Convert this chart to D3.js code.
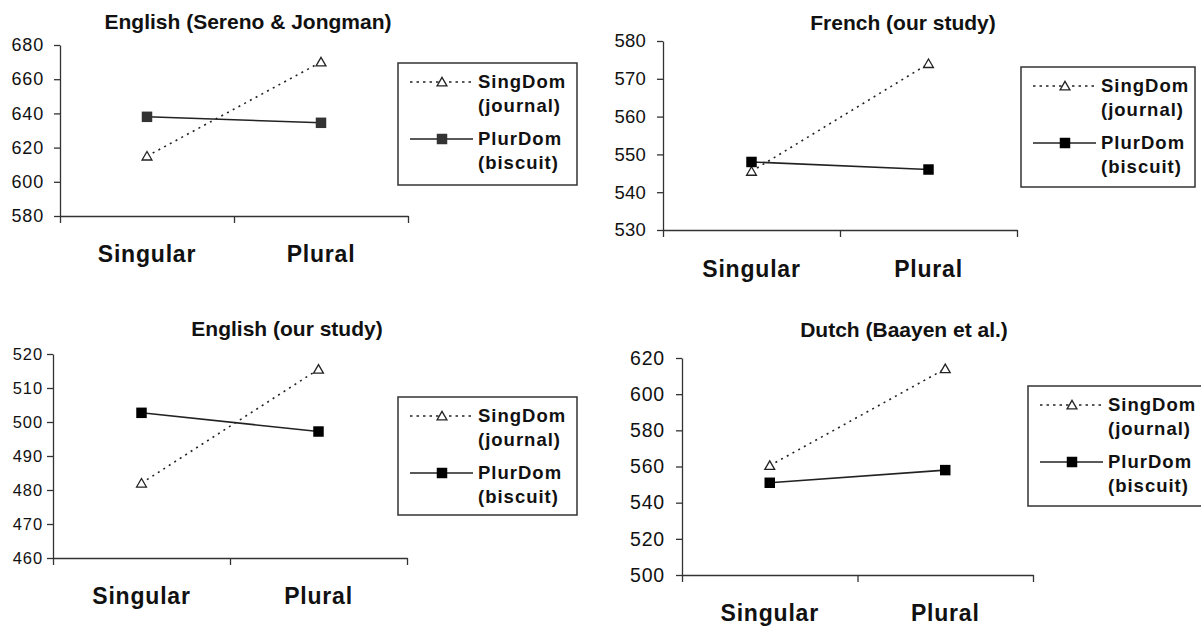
<!DOCTYPE html>
<html>
<head>
<meta charset="utf-8">
<script src="https://cdn.jsdelivr.net/npm/d3@7"></script>
<style>
  body { margin: 0; background: #fff; }
  svg { display: block; font-family: "Liberation Sans", Arial, sans-serif; }
</style>
</head>
<body>
<svg id="chart" width="1201" height="626"></svg>
<script>
// data
const categories = ["Singular", "Plural"];
const titles = ["English (Sereno & Jongman)", "French (our study)", "English (our study)", "Dutch (Baayen et al.)"];
const seriesNames = ["SingDom", "PlurDom"];
const seriesSub = ["(journal)", "(biscuit)"];
const singDom = [[615, 670], [545.5, 574], [482, 515.5], [560.5, 614]];
const plurDom = [[638, 634.5], [548, 546], [502.7, 497.2], [551, 558]];
const yDomains = [[580, 680], [530, 580], [460, 520], [500, 620]];
const yTicks = [
  [580, 600, 620, 640, 660, 680],
  [530, 540, 550, 560, 570, 580],
  [460, 470, 480, 490, 500, 510, 520],
  [500, 520, 540, 560, 580, 600, 620],
];

// where each panel sits on the page
const layout = [
  { x0: 60, x1: 408, yTop: 45, yBot: 216, titleX: 248, titleY: 29, catY: 262, tickFont: 18, tickSpace: 0.8, tickPad: 10, leg: { x: 398, y: 63, w: 179, h: 122 } },
  { x0: 663, x1: 1017, yTop: 41, yBot: 230, titleX: 903, titleY: 30, catY: 277, tickFont: 18.5, tickSpace: 0.2, tickPad: 11, leg: { x: 1021, y: 67, w: 174, h: 120 } },
  { x0: 53, x1: 407, yTop: 354, yBot: 558, titleX: 287, titleY: 336, catY: 604, tickFont: 16.5, tickSpace: 0.9, tickPad: 4, leg: { x: 398, y: 397, w: 179, h: 118 } },
  { x0: 682, x1: 1033, yTop: 358, yBot: 575, titleX: 904, titleY: 337, catY: 621, tickFont: 19.5, tickSpace: 0.8, tickPad: 11, leg: { x: 1028, y: 386, w: 176, h: 120 } },
];

const ink = "#222";
const svg = d3.select("#chart");
const tri = d3.symbol().type(d3.symbolTriangle).size(42);
const sq = d3.symbol().type(d3.symbolSquare).size(110);

layout.forEach((L, i) => {
  const g = svg.append("g");
  const x = d3.scalePoint().domain(categories).range([L.x0, L.x1]).padding(0.5);
  const xb = d3.scaleLinear().domain([0, 2]).range([L.x0, L.x1]);
  const y = d3.scaleLinear().domain(yDomains[i]).range([L.yBot, L.yTop]);

  // title
  g.append("text")
    .attr("x", L.titleX)
    .attr("y", L.titleY)
    .attr("text-anchor", "middle")
    .attr("font-size", 21)
    .attr("font-weight", "bold")
    .attr("fill", "#111")
    .text(titles[i]);

  // y axis
  const ya = g.append("g")
    .attr("transform", `translate(${L.x0},0)`)
    .call(d3.axisLeft(y).tickValues(yTicks[i]).tickSize(6).tickPadding(L.tickPad).tickSizeOuter(0));
  ya.selectAll("path,line").attr("stroke", "#333").attr("stroke-width", 1.3);
  ya.selectAll("text")
    .attr("font-size", L.tickFont)
    .attr("font-family", "Liberation Sans, Arial, sans-serif")
    .attr("letter-spacing", L.tickSpace)
    .attr("fill", "#111");

  // x axis (ticks at band edges, labels drawn separately)
  const xa = g.append("g")
    .attr("transform", `translate(0,${L.yBot})`)
    .call(d3.axisBottom(xb).tickValues([0, 1, 2]).tickSize(7).tickFormat("").tickSizeOuter(0));
  xa.selectAll("path,line").attr("stroke", "#333").attr("stroke-width", 1.3);

  g.selectAll(".cat")
    .data(categories)
    .join("text")
    .attr("class", "cat")
    .attr("x", (d) => x(d))
    .attr("y", L.catY)
    .attr("text-anchor", "middle")
    .attr("font-size", 23)
    .attr("font-weight", "bold")
    .attr("letter-spacing", 0.8)
    .attr("fill", "#111")
    .text((d) => d);

  const line = d3.line()
    .x((d, j) => x(categories[j]))
    .y((d) => y(d));

  // SingDom: dotted with open triangles
  g.append("path")
    .attr("d", line(singDom[i]))
    .attr("fill", "none")
    .attr("stroke", ink)
    .attr("stroke-width", 1.6)
    .attr("stroke-dasharray", "2,4.5");
  g.selectAll(".tri")
    .data(singDom[i])
    .join("path")
    .attr("class", "tri")
    .attr("d", tri)
    .attr("transform", (d, j) => `translate(${x(categories[j])},${y(d) + 1})`)
    .attr("fill", "#fff")
    .attr("stroke", ink)
    .attr("stroke-width", 1.3);

  // PlurDom: solid with filled squares
  g.append("path")
    .attr("d", line(plurDom[i]))
    .attr("fill", "none")
    .attr("stroke", ink)
    .attr("stroke-width", 1.6);
  g.selectAll(".sq")
    .data(plurDom[i])
    .join("path")
    .attr("class", "sq")
    .attr("d", sq)
    .attr("transform", (d, j) => `translate(${x(categories[j])},${y(d)})`)
    .attr("fill", i == 0 ? "#333" : "#000");

  // legend
  const lg = g.append("g").attr("transform", `translate(${L.leg.x},${L.leg.y})`);
  lg.append("rect")
    .attr("width", L.leg.w)
    .attr("height", L.leg.h)
    .attr("fill", "#fff")
    .attr("stroke", "#333")
    .attr("stroke-width", 1.5);
  const rows = [19, 76];
  rows.forEach((ry, k) => {
    lg.append("line")
      .attr("x1", 12)
      .attr("x2", 75)
      .attr("y1", ry)
      .attr("y2", ry)
      .attr("stroke", ink)
      .attr("stroke-width", 1.5)
      .attr("stroke-dasharray", k == 0 ? "2.5,4" : null);
    lg.append("path")
      .attr("d", k == 0 ? tri() : sq())
      .attr("transform", `translate(44,${ry + (k == 0 ? 1 : 0)})`)
      .attr("fill", k == 0 ? "#fff" : i == 0 ? "#333" : "#000")
      .attr("stroke", k == 0 ? ink : "none")
      .attr("stroke-width", 1.3);
    lg.append("text")
      .attr("x", 80)
      .attr("y", ry + 6)
      .attr("font-size", 18.5)
      .attr("font-weight", "bold")
      .attr("letter-spacing", 1)
      .attr("fill", "#111")
      .text(seriesNames[k]);
    lg.append("text")
      .attr("x", 80)
      .attr("y", ry + 30)
      .attr("font-size", 18.5)
      .attr("font-weight", "bold")
      .attr("letter-spacing", 1)
      .attr("fill", "#111")
      .text(seriesSub[k]);
  });
});
</script>
</body>
</html>
